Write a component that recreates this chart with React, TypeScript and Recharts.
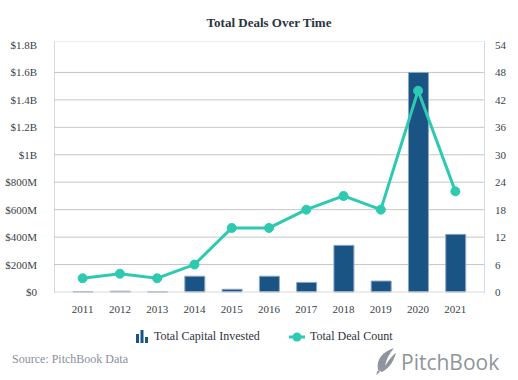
import React from 'react';
import { ComposedChart, Bar, Line, XAxis, YAxis, CartesianGrid } from 'recharts';

const years = ['2011', '2012', '2013', '2014', '2015', '2016', '2017', '2018', '2019', '2020', '2021'];
const capitalInvested = [2e6, 6e6, 1e6, 115e6, 20e6, 115e6, 70e6, 340e6, 80e6, 1.6e9, 420e6];
const dealCount = [3, 4, 3, 6, 14, 14, 18, 21, 18, 44, 22];
const leftTicks = [0, 2e8, 4e8, 6e8, 8e8, 1e9, 1.2e9, 1.4e9, 1.6e9, 1.8e9];
const rightTicks = [0, 6, 12, 18, 24, 30, 36, 42, 48, 54];
const gridValues = [2e8, 4e8, 6e8, 8e8, 1e9, 1.2e9, 1.4e9, 1.6e9];

const data = years.map((y, i) => ({ year: y, capital: capitalInvested[i], deals: dealCount[i] }));

const fmtMoney = (v: number) => {
  if (v === 0) return '$0';
  if (v >= 1e9) return `$${+(v / 1e9).toFixed(1)}B`;
  return `$${Math.round(v / 1e6)}M`;
};

const BAR = '#1a5485';
const LINE = '#2ec9b1';
const FONT = '"Liberation Serif", "Times New Roman", serif';

const makeTick = (anchor: 'start' | 'middle' | 'end', fmt?: (v: any) => string, dy = 4) => (props: any) => {
  const { x, y, payload } = props;
  const label = fmt ? fmt(payload.value) : String(payload.value);
  return (
    <text x={x} y={y} dy={dy} textAnchor={anchor} fontSize={11} fill="#3a3f47" style={{ fontFamily: FONT }}>
      {label}
    </text>
  );
};

const XTick = makeTick('middle', undefined, 10);
const LeftTick = makeTick('end', fmtMoney, 4);
const RightTick = makeTick('start', undefined, 4);

export default function App() {
  return (
    <div style={{ position: 'absolute', left: 0, top: 0, width: 518, height: 380, background: '#fff', fontFamily: FONT }}>
      <div style={{ position: 'absolute', left: 54, width: 430, top: 15, textAlign: 'center', fontSize: 13, fontWeight: 'bold', color: '#2d3441' }}>
        Total Deals Over Time
      </div>
      <div style={{ position: 'absolute', left: 54, top: 41, width: 429, height: 251, borderTop: '1px solid #eceef1', borderLeft: '1px solid #d6dbe2', borderRight: '1px solid #d6dbe2', boxSizing: 'content-box' }} />
      <div style={{ position: 'absolute', left: 0, top: 0 }}>
        <ComposedChart width={518} height={330} data={data} margin={{ top: 45, right: 0, bottom: 8, left: 0 }}>
          <CartesianGrid yAxisId="left" vertical={false} stroke="#c6c6c6" horizontalValues={gridValues} />
          <XAxis
            dataKey="year"
            padding={{ left: 10, right: 10 }}
            tickLine={false}
            tickMargin={5}
            axisLine={{ stroke: '#d6dbe2' }}
            tick={XTick}
            height={30}
            interval={0}
          />
          <YAxis
            yAxisId="left"
            orientation="left"
            width={54}
            domain={[0, 1.8e9]}
            ticks={leftTicks}
            tickLine={false}
            axisLine={false}
            tickMargin={11}
            tick={LeftTick}
            interval={0}
          />
          <YAxis
            yAxisId="right"
            orientation="right"
            width={34}
            domain={[0, 54]}
            ticks={rightTicks}
            tickLine={false}
            axisLine={false}
            tickMargin={5}
            tick={RightTick}
            interval={0}
          />
          <Bar yAxisId="left" dataKey="capital" fill={BAR} stroke="#8fa8bf" strokeWidth={1} barSize={20} isAnimationActive={false} />
          <Line
            yAxisId="right"
            dataKey="deals"
            stroke={LINE}
            strokeWidth={3}
            dot={{ r: 4.5, fill: LINE, stroke: LINE, strokeWidth: 1 }}
            activeDot={false}
            isAnimationActive={false}
          />
        </ComposedChart>
      </div>
      <div style={{ position: 'absolute', top: 328, left: 0, width: 518, height: 18, fontSize: 12, color: '#2d3441' }}>
        <svg width={14} height={14} style={{ position: 'absolute', left: 136, top: 2 }}>
          <rect x={0} y={4} width={3} height={9} fill={BAR} />
          <rect x={4.5} y={0} width={3} height={13} fill={BAR} />
          <rect x={9} y={7} width={3} height={6} fill={BAR} />
        </svg>
        <span style={{ position: 'absolute', left: 154, top: 1 }}>Total Capital Invested</span>
        <svg width={18} height={14} style={{ position: 'absolute', left: 289, top: 2 }}>
          <line x1={0} y1={7} x2={16} y2={7} stroke={LINE} strokeWidth={3} />
          <circle cx={8} cy={7} r={4.5} fill={LINE} />
        </svg>
        <span style={{ position: 'absolute', left: 310, top: 1 }}>Total Deal Count</span>
      </div>
      <div style={{ position: 'absolute', left: 12, top: 352, fontSize: 12, color: '#8a9099' }}>Source: PitchBook Data</div>
      <svg width={140} height={34} style={{ position: 'absolute', left: 372, top: 344 }}>
        <path d="M6 26 C4 16 10 8 22 4 C17 10 14 16 13 22 C18 14 22 10 24 9 C22 16 18 24 10 28 Z" fill="#8f959d" />
        <path d="M6 26 L4 31 L8 28 Z" fill="#8f959d" />
        <text x={29} y={26} fontSize={21} fill="#8f959d" fontFamily='"Open Sans", "DejaVu Sans", sans-serif'>PitchBook</text>
      </svg>
    </div>
  );
}
